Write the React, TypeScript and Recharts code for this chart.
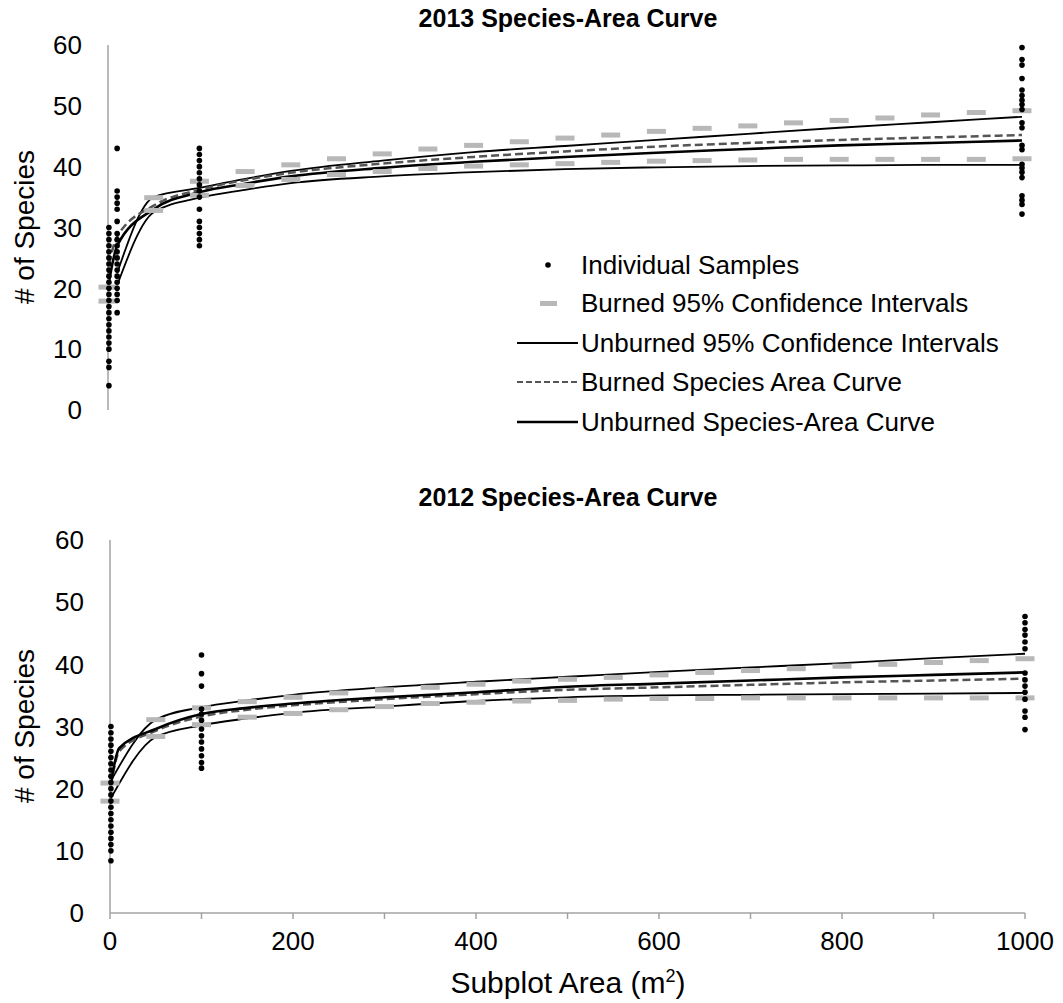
import React from 'react';
import { ComposedChart, Customized, Legend, Line, Scatter, XAxis, YAxis } from 'recharts';

const FONT = '"Liberation Sans", Arial, Helvetica, sans-serif';

// x positions (m²)
const dashAreas = [0, 50, 100, 150, 200, 250, 300, 350, 400, 450, 500, 550, 600, 650, 700, 750, 800, 850, 900, 950, 1000];
const curveAreas = [1, 10, 50, 100, 150, 200, 300, 400, 500, 600, 700, 800, 900, 1000];
const ciAreas2013 = [10, 50, 100, 150, 200, 300, 400, 500, 600, 700, 800, 900, 1000];
const ciAreas2012 = [0, 50, 100, 150, 200, 300, 400, 500, 600, 700, 800, 900, 1000];
const yTicks = [0, 10, 20, 30, 40, 50, 60];
const xTicks = [0, 100, 200, 300, 400, 500, 600, 700, 800, 900, 1000];

// 2013
const burnedUpper2013 = [20.2, 34.9, 37.6, 39.2, 40.3, 41.3, 42.1, 42.9, 43.5, 44.1, 44.7, 45.2, 45.8, 46.3, 46.7, 47.2, 47.6, 48.0, 48.5, 48.9, 49.2];
const burnedLower2013 = [17.9, 32.8, 35.3, 36.9, 37.9, 38.7, 39.2, 39.7, 40.1, 40.3, 40.5, 40.7, 40.9, 41.0, 41.1, 41.2, 41.2, 41.2, 41.2, 41.2, 41.3];
const unburnedUpper2013 = [22.5, 35.0, 36.5, 38.0, 39.3, 41.0, 42.4, 43.4, 44.4, 45.4, 46.4, 47.3, 48.2];
const unburnedLower2013 = [20.5, 32.5, 34.9, 36.2, 37.3, 38.4, 39.1, 39.6, 39.9, 40.1, 40.2, 40.3, 40.3];
const burnedCurve2013 = [24, 28.5, 33.6, 36.2, 37.8, 39.0, 40.5, 41.6, 42.5, 43.3, 43.9, 44.4, 44.8, 45.2];
const unburnedCurve2013 = [21, 27, 33.0, 35.8, 37.2, 38.4, 39.8, 40.8, 41.6, 42.3, 42.9, 43.5, 43.9, 44.3];
const samples2013At1 = [4, 7, 8, 10, 11, 12, 13, 14, 15, 16, 17, 18, 19, 20, 21, 22, 23, 24, 25, 26, 27, 28, 29, 30];
const samples2013At10 = [16, 18, 19, 20, 21, 22, 23, 24, 25, 26, 27, 28, 29, 31, 33, 34, 35, 36, 43];
const samples2013At100 = [27, 28, 29, 30, 31, 33, 35, 36, 37, 38, 39, 40, 41, 42, 43];
const samples2013At1000 = [32.2, 33.8, 34.5, 35.2, 38.2, 39.1, 39.8, 40.4, 42.8, 43.5, 46.4, 47.2, 49.4, 50.2, 50.9, 51.7, 52.6, 54.5, 56.7, 57.6, 59.6];

// 2012
const burnedUpper2012 = [20.9, 31.1, 33.0, 34.0, 34.7, 35.4, 35.9, 36.3, 36.8, 37.3, 37.6, 37.9, 38.3, 38.7, 39.0, 39.3, 39.7, 40.0, 40.3, 40.6, 40.9];
const burnedLower2012 = [18.0, 28.4, 30.3, 31.5, 32.1, 32.7, 33.2, 33.7, 33.9, 34.1, 34.2, 34.4, 34.5, 34.5, 34.6, 34.6, 34.6, 34.6, 34.6, 34.6, 34.6];
const unburnedUpper2012 = [21, 31.1, 33.1, 34.2, 35.1, 36.3, 37.2, 38.0, 38.8, 39.5, 40.2, 41.0, 41.7];
const unburnedLower2012 = [18.2, 28.3, 30.2, 31.3, 32.2, 33.2, 34.1, 34.7, 35.0, 35.1, 35.2, 35.3, 35.4];
const burnedCurve2012 = [20.5, 26, 29.3, 31.6, 32.7, 33.4, 34.4, 35.2, 35.9, 36.3, 36.7, 37.1, 37.4, 37.7];
const unburnedCurve2012 = [21, 26.5, 29.6, 32.0, 33.0, 33.7, 34.7, 35.5, 36.4, 36.9, 37.4, 37.9, 38.3, 38.7];
const samples2012At1 = [8.4, 10, 11, 12, 13, 14, 15, 16, 17, 18, 19, 20, 21, 22, 23, 24, 25, 26, 27, 28, 29, 30];
const samples2012At100 = [23.3, 24.2, 25.3, 26.4, 27.5, 28.5, 29.6, 31.0, 32.0, 32.8, 36.5, 38.5, 41.5];
const samples2012At1000 = [29.5, 31.5, 32.5, 34.4, 35.5, 36.5, 37.5, 38.6, 42.5, 43.6, 44.7, 45.6, 46.7, 47.7];

type Pt = { x: number; y: number };
const toPoints = (xs: number[], ys: number[]): Pt[] => xs.map((x, i) => ({ x, y: ys[i] }));
const column = (x: number, ys: number[]): Pt[] => ys.map((y) => ({ x, y }));

const GRAY = '#b8b8b8';
const AXIS = '#a3a3a3';

const GrayDash = (props: any) => (
  <rect x={props.cx - 9.5} y={props.cy - 2.5} width={19} height={5} fill={GRAY} />
);
const BlackDot = (props: any) => <circle cx={props.cx} cy={props.cy} r={2.8} fill="#000" />;

function LegendBox() {
  const text = { fontFamily: FONT, fontSize: 26, fill: '#000', dominantBaseline: 'central' as const };
  return (
    <svg width={540} height={200} style={{ display: 'block', overflow: 'visible' }}>
      <circle cx={36} cy={20} r={2.8} fill="#000" />
      <text x={69} y={20} {...text}>Individual Samples</text>
      <rect x={28} y={56} width={17} height={5} fill={GRAY} />
      <text x={69} y={58} {...text}>Burned 95% Confidence Intervals</text>
      <line x1={5} x2={66} y1={98} y2={98} stroke="#000" strokeWidth={1.8} />
      <text x={69} y={98} {...text}>Unburned 95% Confidence Intervals</text>
      <line x1={5} x2={66} y1={137} y2={137} stroke="#555" strokeWidth={2} strokeDasharray="6 3" />
      <text x={69} y={137} {...text}>Burned Species Area Curve</text>
      <line x1={5} x2={66} y1={177} y2={177} stroke="#000" strokeWidth={2.6} />
      <text x={69} y={177} {...text}>Unburned Species-Area Curve</text>
    </svg>
  );
}

function ChartTexts({ title, titleY, yTitleY, xTitleY }: { title: string; titleY: number; yTitleY: number; xTitleY?: number }) {
  return (
    <g fontFamily={FONT} fill="#000">
      <text x={568} y={titleY} textAnchor="middle" fontWeight="bold" fontSize={25}>{title}</text>
      <text transform={`translate(34,${yTitleY}) rotate(-90)`} textAnchor="middle" fontSize={28}># of Species</text>
      {xTitleY !== undefined && (
        <text x={568} y={xTitleY} textAnchor="middle" fontSize={30}>
          Subplot Area (m<tspan dy={-11} fontSize={18}>2</tspan><tspan dy={11}>)</tspan>
        </text>
      )}
    </g>
  );
}

interface YearChartProps {
  title: string;
  height: number;
  margin: { top: number; right: number; bottom: number; left: number };
  yAxisWidth: number;
  showXAxis: boolean;
  titleY: number;
  yTitleY: number;
  xTitleY?: number;
  burnedUpper: number[];
  burnedLower: number[];
  ciAreas: number[];
  unburnedUpper: number[];
  unburnedLower: number[];
  burnedCurve: number[];
  unburnedCurve: number[];
  samples: Pt[];
  legend?: boolean;
}

function YearChart(p: YearChartProps) {
  return (
    <ComposedChart width={1063} height={p.height} margin={p.margin}>
      <XAxis
        type="number"
        dataKey="x"
        domain={[0, 1000]}
        ticks={xTicks}
        hide={!p.showXAxis}
        height={90}
        axisLine={{ stroke: AXIS, strokeWidth: 1.5 }}
        tickLine={{ stroke: AXIS, strokeWidth: 1.5 }}
        tickSize={6}
        tickMargin={13}
        tick={{ fontSize: 26, fill: '#000', fontFamily: FONT }}
        tickFormatter={(v: number) => (v % 200 === 0 ? String(v) : '')}
        interval={0}
      />
      <YAxis
        type="number"
        domain={[0, 60]}
        ticks={yTicks}
        width={p.yAxisWidth}
        axisLine={{ stroke: AXIS, strokeWidth: 1.5 }}
        tickLine={false}
        tickSize={0}
        tickMargin={26}
        tick={{ fontSize: 26, fill: '#000', fontFamily: FONT }}
        interval={0}
      />
      <Scatter data={toPoints(dashAreas, p.burnedUpper)} dataKey="y" shape={GrayDash} isAnimationActive={false} />
      <Scatter data={toPoints(dashAreas, p.burnedLower)} dataKey="y" shape={GrayDash} isAnimationActive={false} />
      <Line data={toPoints(p.ciAreas, p.unburnedUpper)} dataKey="y" type="monotone" stroke="#000" strokeWidth={1.8} dot={false} activeDot={false} isAnimationActive={false} />
      <Line data={toPoints(p.ciAreas, p.unburnedLower)} dataKey="y" type="monotone" stroke="#000" strokeWidth={1.8} dot={false} activeDot={false} isAnimationActive={false} />
      <Line data={toPoints(curveAreas, p.burnedCurve)} dataKey="y" type="monotone" stroke="#555" strokeWidth={2.5} strokeDasharray="8 4" dot={false} activeDot={false} isAnimationActive={false} />
      <Line data={toPoints(curveAreas, p.unburnedCurve)} dataKey="y" type="monotone" stroke="#000" strokeWidth={2.6} dot={false} activeDot={false} isAnimationActive={false} />
      <Scatter data={p.samples} dataKey="y" shape={BlackDot} isAnimationActive={false} />
      {p.legend && (
        <Legend
          layout="vertical"
          align="center"
          verticalAlign="middle"
          content={() => <LegendBox />}
          wrapperStyle={{ left: 512, top: 245, width: 540, height: 200 }}
        />
      )}
      <Customized component={<ChartTexts title={p.title} titleY={p.titleY} yTitleY={p.yTitleY} xTitleY={p.xTitleY} />} />
    </ComposedChart>
  );
}

export default function App() {
  const samples2013 = [
    ...column(1, samples2013At1),
    ...column(10, samples2013At10),
    ...column(100, samples2013At100),
    ...column(1000, samples2013At1000),
  ];
  const samples2012 = [
    ...column(1, samples2012At1),
    ...column(100, samples2012At100),
    ...column(1000, samples2012At1000),
  ];
  return (
    <div style={{ position: 'absolute', left: 0, top: 0, width: 1063, height: 1003, background: '#fff', fontFamily: FONT }}>
      <div style={{ position: 'absolute', left: 0, top: 0 }}>
        <YearChart
          title="2013 Species-Area Curve"
          height={470}
          margin={{ top: 45, right: 41, bottom: 60, left: 0 }}
          yAxisWidth={108}
          showXAxis={false}
          titleY={27}
          yTitleY={227}
          burnedUpper={burnedUpper2013}
          burnedLower={burnedLower2013}
          ciAreas={ciAreas2013}
          unburnedUpper={unburnedUpper2013}
          unburnedLower={unburnedLower2013}
          burnedCurve={burnedCurve2013}
          unburnedCurve={unburnedCurve2013}
          samples={samples2013}
          legend
        />
      </div>
      <div style={{ position: 'absolute', left: 0, top: 470 }}>
        <YearChart
          title="2012 Species-Area Curve"
          height={533}
          margin={{ top: 70, right: 38, bottom: 0, left: 0 }}
          yAxisWidth={110}
          showXAxis
          titleY={36}
          yTitleY={256}
          xTitleY={523}
          burnedUpper={burnedUpper2012}
          burnedLower={burnedLower2012}
          ciAreas={ciAreas2012}
          unburnedUpper={unburnedUpper2012}
          unburnedLower={unburnedLower2012}
          burnedCurve={burnedCurve2012}
          unburnedCurve={unburnedCurve2012}
          samples={samples2012}
        />
      </div>
    </div>
  );
}
